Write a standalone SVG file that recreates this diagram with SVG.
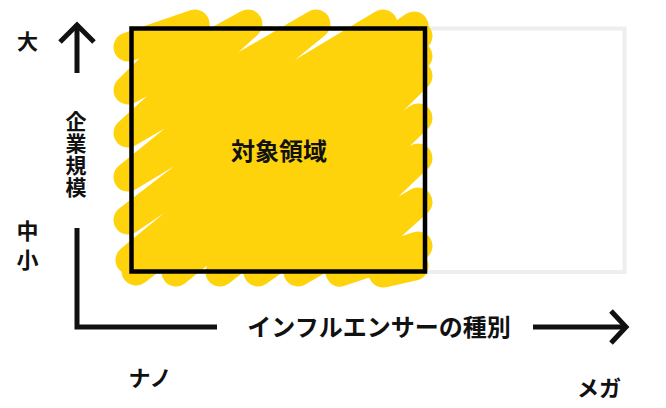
<svg xmlns="http://www.w3.org/2000/svg" width="666" height="408" viewBox="0 0 666 408">
<style>
.lbl{font-family:"Noto Sans CJK JP","Noto Sans",sans-serif;font-weight:700;fill:#111;text-anchor:middle}
.vt{font-family:"Noto Sans CJK JP","Noto Sans",sans-serif;font-weight:700;fill:#111;writing-mode:vertical-rl;text-anchor:start}
.ax{fill:none;stroke:#111;stroke-width:5;stroke-linecap:butt;stroke-linejoin:miter}
.scribble{fill:none;stroke:#FED30B;stroke-width:29;stroke-linecap:round;stroke-linejoin:round}
</style>
<rect width="666" height="408" fill="#ffffff"/>
<g id="max-range">
<rect x="131.5" y="28.5" width="493" height="243.5" fill="none" stroke="#eeeeee" stroke-width="4"/>
</g>
<g id="target-area">
<path class="scribble" d="M128,47 L195,24 L128,90 L248,24 L128,133 L316,24 L128,177 L383,24 L128,220 L414,26 L130,260 L418,36 L136,271 L418,56 L176,272 L418,76 L220,272 L418,118 L258,272 L418,158 L298,272 L418,202 L340,272 L418,246 L383,273 L414,266"/>
<rect x="131.5" y="28.5" width="293.5" height="243" fill="none" stroke="#000" stroke-width="4.5"/>
<text class="lbl" x="279" y="160" font-size="24">対象領域</text>
</g>
<g id="connectors">
<path class="ax" d="M77,73 V24"/>
<path class="ax" d="M60,42 L77,25 L94,42"/>
<path class="ax" d="M77,228 V327 H217"/>
<path class="ax" d="M533,327 H625"/>
<path class="ax" d="M611,311 L626,327 L611,343"/>
</g>
<g id="label-large"><text class="lbl" x="27.5" y="49" font-size="21">大</text></g>
<g id="label-small"><text class="vt" x="27.5" y="220" font-size="22" letter-spacing="6.5">中小</text></g>
<g id="label-size"><text class="vt" x="76" y="111" font-size="21" letter-spacing="1">企業規模</text></g>
<g id="label-type"><text class="lbl" x="379" y="336" font-size="24">インフルエンサーの種別</text></g>
<g id="label-nano"><text class="lbl" x="150" y="385.5" font-size="22">ナノ</text></g>
<g id="label-mega"><text class="lbl" x="599" y="395.5" font-size="22">メガ</text></g>
</svg>
